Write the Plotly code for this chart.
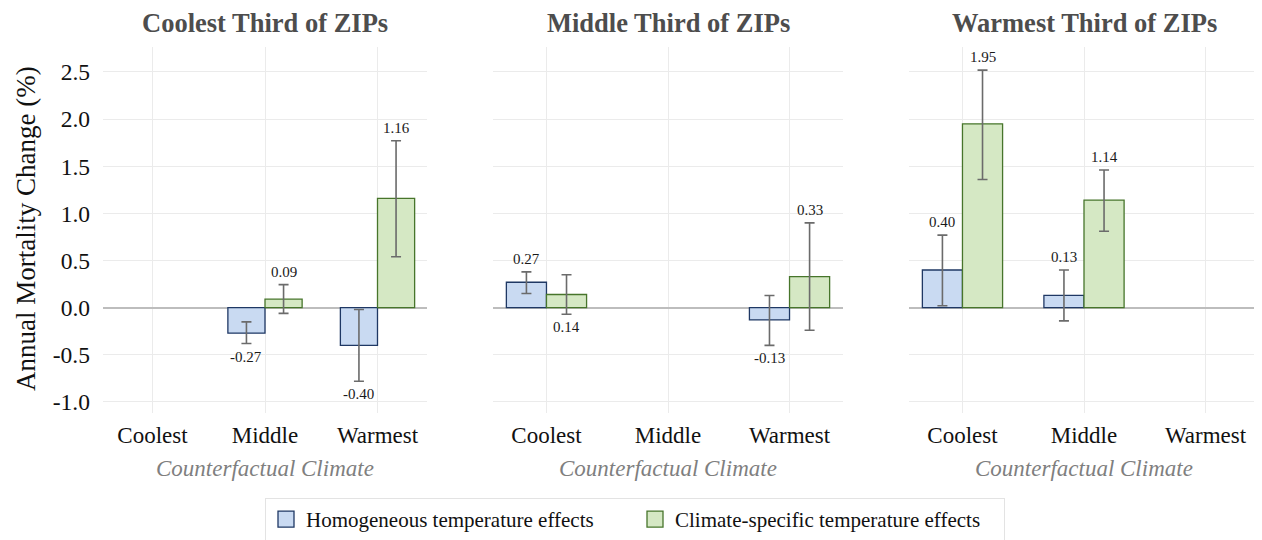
import plotly.graph_objects as go

# ---------------- data ----------------
climates = ["Coolest", "Middle", "Warmest"]
panel_titles = ["Coolest Third of ZIPs", "Middle Third of ZIPs", "Warmest Third of ZIPs"]
series_names = ["Homogeneous temperature effects", "Climate-specific temperature effects"]

homog_vals = [[None, -0.27, -0.40], [0.27, None, -0.13], [0.40, 0.13, None]]
homog_lo = [[None, -0.38, -0.78], [0.15, None, -0.40], [0.02, -0.14, None]]
homog_hi = [[None, -0.15, -0.02], [0.38, None, 0.13], [0.77, 0.40, None]]

clim_vals = [[None, 0.09, 1.16], [0.14, None, 0.33], [1.95, 1.14, None]]
clim_lo = [[None, -0.06, 0.54], [-0.07, None, -0.24], [1.36, 0.81, None]]
clim_hi = [[None, 0.245, 1.77], [0.35, None, 0.90], [2.52, 1.46, None]]

homog_side = [[None, "below", "below"], ["above", None, "below"], ["above", "above", None]]
clim_side = [[None, "above", "above"], ["below", None, "above"], ["above", "above", None]]

y_tickvals = [-1.0, -0.5, 0.0, 0.5, 1.0, 1.5, 2.0, 2.5]
y_ticktext = ["-1.0", "-0.5", "0.0", "0.5", "1.0", "1.5", "2.0", "2.5"]

# ---------------- style ----------------
W, H = 1262, 540
OFF = 8  # page body margin in the browser
FONT = "Liberation Serif"
fills = ["#c9daf2", "#d5e8c4"]
edges = ["#1f3864", "#47752b"]
err_col = "#6b6b6b"
grid_col = "#ebebeb"
bargap = 0.34
bar_w = (1 - bargap) / 2

panel_px = [(103, 427), (493, 843), (909, 1259)]
y_top_px, y_bot_px = 47, 413
yrange = [-1.117, 2.765]
xrange = [-0.44, 2.44]


def px_x(v):
    return (v - OFF) / W


def px_y(v):
    return (H - (v - OFF)) / H


fig = go.Figure()
annotations = []

series = [
    (homog_vals, homog_lo, homog_hi, homog_side),
    (clim_vals, clim_lo, clim_hi, clim_side),
]

xs = list(range(len(climates)))
for p in range(3):
    ax = "" if p == 0 else str(p + 1)
    for s, (vals, lo, hi, side) in enumerate(series):
        v = vals[p]
        up = [None if v[i] is None else hi[p][i] - v[i] for i in xs]
        dn = [None if v[i] is None else v[i] - lo[p][i] for i in xs]
        fig.add_trace(go.Bar(
            x=xs, y=v, name=series_names[s],
            marker=dict(color=fills[s], line=dict(color=edges[s], width=1.3)),
            error_y=dict(type="data", array=up, arrayminus=dn, color=err_col,
                         thickness=1.6, width=5, visible=True),
            offsetgroup=str(s), showlegend=False,
            xaxis="x" + ax, yaxis="y" + ax, hoverinfo="skip",
        ))
        offset = (s - 0.5) * bar_w
        for i in xs:
            if v[i] is None:
                continue
            if side[p][i] == "above":
                yy, anc, sh = hi[p][i], "bottom", 3
            else:
                yy, anc, sh = lo[p][i], "top", -3
            annotations.append(dict(
                x=i + offset, y=yy, xref="x" + ax, yref="y" + ax,
                text=f"{v[i]:.2f}", showarrow=False, yanchor=anc, yshift=sh,
                font=dict(family=FONT, size=15, color="#1a1a1a"),
            ))

    x0, x1 = panel_px[p]
    dom_x = [px_x(x0), px_x(x1)]
    dom_y = [px_y(y_bot_px), px_y(y_top_px)]
    xa = dict(domain=dom_x, range=xrange, tickvals=xs, ticktext=climates,
              showgrid=True, gridcolor=grid_col, gridwidth=1, zeroline=False,
              showline=False, ticks="", ticklabelstandoff=6,
              tickfont=dict(family=FONT, size=23, color="#111111"),
              anchor="y" + ax, fixedrange=True)
    ya = dict(domain=dom_y, range=yrange, tickvals=y_tickvals, ticktext=y_ticktext,
              showgrid=True, gridcolor=grid_col, gridwidth=1,
              zeroline=True, zerolinecolor="#bdbdbd", zerolinewidth=2,
              showline=False, ticks="", ticklabelstandoff=12,
              showticklabels=(p == 0),
              tickfont=dict(family=FONT, size=23.5, color="#111111"),
              anchor="x" + ax, fixedrange=True)
    fig.update_layout(**{"xaxis" + ax: xa, "yaxis" + ax: ya})

    cx = px_x((x0 + x1) / 2)
    annotations.append(dict(
        x=cx, y=px_y(23), xref="paper", yref="paper", text="<b>" + panel_titles[p] + "</b>",
        showarrow=False, xanchor="center", yanchor="middle",
        font=dict(family=FONT, size=26.5, color="#4d4d4d"),
    ))
    annotations.append(dict(
        x=cx, y=px_y(468), xref="paper", yref="paper", text="<i>Counterfactual Climate</i>",
        showarrow=False, xanchor="center", yanchor="middle",
        font=dict(family=FONT, size=23, color="#7f7f7f"),
    ))

annotations.append(dict(
    x=px_x(26), y=px_y(229), xref="paper", yref="paper", text="Annual Mortality Change (%)",
    showarrow=False, textangle=-90, xanchor="center", yanchor="middle",
    font=dict(family=FONT, size=27, color="#111111"),
))

# legend entries (swatches styled like the bars)
for s in range(2):
    fig.add_trace(go.Scatter(
        x=[None], y=[None], mode="markers", name=series_names[s],
        marker=dict(symbol="square", size=16, color=fills[s],
                    line=dict(color=edges[s], width=1.3)),
        showlegend=True, hoverinfo="skip",
    ))

fig.update_layout(
    width=W, height=H,
    margin=dict(l=0, r=0, t=0, b=0, autoexpand=False),
    paper_bgcolor="white", plot_bgcolor="white",
    barmode="group", bargap=bargap, bargroupgap=0,
    annotations=annotations,
    showlegend=True,
    legend=dict(orientation="h", x=px_x(265), xanchor="left", y=px_y(498), yanchor="top",
                bordercolor="#e3e3e3", borderwidth=1, bgcolor="white",
                font=dict(family=FONT, size=21, color="#111111"),
                itemsizing="trace",
                entrywidth=324, itemclick=False, itemdoubleclick=False),
    font=dict(family=FONT),
)

fig.write_html("out.html")
